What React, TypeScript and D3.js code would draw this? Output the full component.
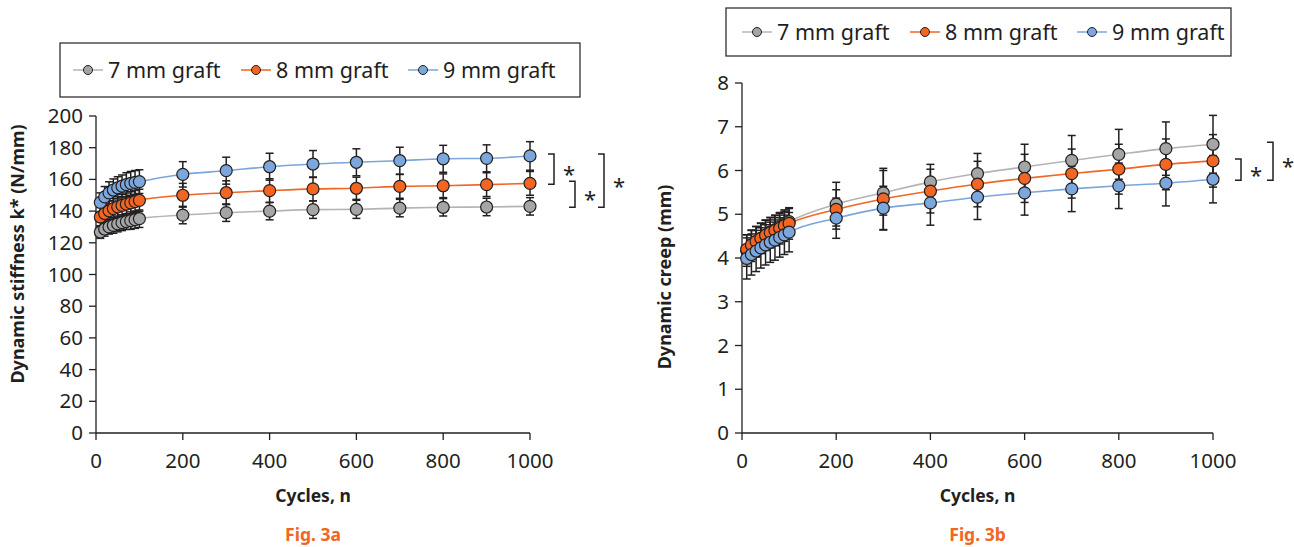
import React from "react";
import * as d3 from "d3";

// cycle counts at which the measurements were taken
const cycles = [10, 20, 30, 40, 50, 60, 70, 80, 90, 100, 200, 300, 400, 500, 600, 700, 800, 900, 1000];

const graftNames = ["7 mm graft", "8 mm graft", "9 mm graft"];

// Fig. 3a - dynamic stiffness k* (N/mm), mean and SD
const stiff7 = [126.8, 128.7, 130.0, 131.0, 131.9, 132.7, 133.4, 134.0, 134.6, 135.2, 137.5, 139.0, 140.0, 140.9, 141.1, 141.9, 142.4, 142.6, 143.0];
const stiff8 = [136.3, 138.5, 140.2, 141.6, 142.7, 143.6, 144.4, 145.2, 146.0, 146.8, 150.0, 151.6, 152.9, 154.0, 154.4, 155.6, 156.0, 156.7, 157.5];
const stiff9 = [145.5, 149.0, 151.5, 153.3, 154.7, 155.8, 156.7, 157.5, 158.1, 158.6, 163.2, 165.5, 168.0, 169.7, 170.8, 171.8, 173.0, 173.3, 174.8];
const stiffSd7 = [4.0, 4.5, 4.5, 5.0, 5.0, 5.0, 5.0, 5.5, 5.5, 5.5, 5.5, 5.5, 5.5, 5.5, 5.7, 5.5, 5.5, 5.5, 5.5];
const stiffSd8 = [6.0, 6.0, 6.5, 6.5, 6.5, 7.0, 7.0, 7.0, 7.0, 7.0, 7.5, 7.5, 7.5, 7.5, 7.0, 7.5, 7.5, 7.5, 7.5];
const stiffSd9 = [6.0, 6.5, 7.0, 7.0, 7.0, 7.0, 7.5, 7.5, 7.5, 7.5, 8.0, 8.5, 8.5, 8.5, 8.5, 8.5, 8.5, 8.5, 9.0];
const stiffTicks = [0, 20, 40, 60, 80, 100, 120, 140, 160, 180, 200];

// Fig. 3b - dynamic creep (mm), mean and SD
const creep7 = [4.17, 4.28, 4.37, 4.45, 4.52, 4.59, 4.65, 4.71, 4.77, 4.83, 5.23, 5.49, 5.74, 5.93, 6.08, 6.23, 6.37, 6.50, 6.60];
const creep8 = [4.20, 4.30, 4.38, 4.45, 4.52, 4.58, 4.63, 4.68, 4.74, 4.79, 5.11, 5.35, 5.53, 5.69, 5.82, 5.93, 6.03, 6.14, 6.22];
const creep9 = [3.99, 4.08, 4.16, 4.23, 4.30, 4.36, 4.41, 4.47, 4.53, 4.59, 4.91, 5.14, 5.26, 5.39, 5.49, 5.58, 5.65, 5.71, 5.80];
const creepSd7 = [0.36, 0.36, 0.35, 0.35, 0.34, 0.33, 0.32, 0.31, 0.30, 0.30, 0.50, 0.51, 0.40, 0.46, 0.52, 0.57, 0.57, 0.61, 0.66];
const creepSd8 = [0.33, 0.33, 0.34, 0.34, 0.35, 0.35, 0.35, 0.36, 0.36, 0.36, 0.45, 0.70, 0.50, 0.52, 0.55, 0.56, 0.57, 0.58, 0.60];
const creepSd9 = [0.47, 0.47, 0.47, 0.46, 0.46, 0.46, 0.46, 0.45, 0.45, 0.45, 0.46, 0.50, 0.51, 0.51, 0.51, 0.52, 0.52, 0.52, 0.54];
const creepTicks = [0, 1, 2, 3, 4, 5, 6, 7, 8];

const xTicks = [0, 200, 400, 600, 800, 1000];

const fills = ["#a4a5a7", "#f26522", "#7ba7dc"];
const lineColors = ["#b4b4b4", "#f26522", "#7aa6dd"];
const ink = "#231f20";
const font = "'Noto Sans', 'Open Sans', sans-serif";

type PanelProps = {
  x0: number;
  x1: number;
  yTop: number;
  yBottom: number;
  yMax: number;
  yTickVals: number[];
  means: number[][];
  sds: number[][];
  yTitle: string;
  yTitleX: number;
  yTitleY: number;
  figLabel: string;
  legend: { x: number; y: number; w: number; h: number; items: number[] };
  brackets: { a: number; b: number; x: number }[];
};

function Panel(p: PanelProps) {
  const x = d3.scaleLinear().domain([0, 1000]).range([p.x0, p.x1]);
  const y = d3.scaleLinear().domain([0, p.yMax]).range([p.yBottom, p.yTop]);
  const line = d3
    .line<number>()
    .x((_, i) => x(cycles[i]))
    .y((d) => y(d))
    .curve(d3.curveMonotoneX);
  const cx = (p.x0 + p.x1) / 2;
  const last = cycles.length - 1;

  return (
    <g>
      {/* legend */}
      <rect x={p.legend.x} y={p.legend.y} width={p.legend.w} height={p.legend.h} fill="white" stroke={ink} strokeWidth={1.2} />
      {graftNames.map((name, i) => {
        const lx = p.legend.items[i];
        const ly = p.legend.y + p.legend.h / 2;
        return (
          <g key={name}>
            <line x1={lx} x2={lx + 30} y1={ly} y2={ly} stroke={lineColors[i]} strokeWidth={1.5} />
            <circle cx={lx + 15} cy={ly} r={4.5} fill={fills[i]} stroke={ink} strokeWidth={1} />
            <text x={lx + 35} y={ly + 7.5} fontSize={21.5} fontFamily={font} fill={ink}>
              {name}
            </text>
          </g>
        );
      })}

      {/* axes */}
      <line x1={p.x0} x2={p.x0} y1={p.yTop} y2={p.yBottom} stroke={ink} strokeWidth={1.3} />
      <line x1={p.x0} x2={p.x1} y1={p.yBottom} y2={p.yBottom} stroke={ink} strokeWidth={1.3} />
      {p.yTickVals.map((t) => (
        <g key={"y" + t}>
          <line x1={p.x0 - 7} x2={p.x0} y1={y(t)} y2={y(t)} stroke={ink} strokeWidth={1.3} />
          <text x={p.x0 - 13} y={y(t) + 7} textAnchor="end" fontSize={20.5} fontFamily={font} fill={ink}>
            {t}
          </text>
        </g>
      ))}
      {xTicks.map((t) => (
        <g key={"x" + t}>
          <line x1={x(t)} x2={x(t)} y1={p.yBottom} y2={p.yBottom + 7} stroke={ink} strokeWidth={1.3} />
          <text x={x(t)} y={p.yBottom + 35} textAnchor="middle" fontSize={20.5} fontFamily={font} fill={ink}>
            {t}
          </text>
        </g>
      ))}
      <text x={cx} y={p.yBottom + 69} textAnchor="middle" fontSize={17.5} fontWeight="bold" fontFamily={font} fill={ink}>
        Cycles, n
      </text>
      <text x={cx} y={p.yBottom + 108} textAnchor="middle" fontSize={17.5} fontWeight="bold" fontFamily={font} fill="#f26522">
        {p.figLabel}
      </text>
      <text
        transform={`translate(${p.yTitleX},${p.yTitleY}) rotate(-90)`}
        textAnchor="middle"
        fontSize={18}
        fontWeight="bold"
        fontFamily={font}
        fill={ink}
      >
        {p.yTitle}
      </text>

      {/* fitted lines */}
      {p.means.map((m, i) => (
        <path key={"l" + i} d={line(m) || ""} fill="none" stroke={lineColors[i]} strokeWidth={1.6} />
      ))}

      {/* error bars */}
      {p.means.map((m, i) =>
        m.map((v, j) => {
          const px = x(cycles[j]);
          const hi = y(v + p.sds[i][j]);
          const lo = y(v - p.sds[i][j]);
          return (
            <g key={`e${i}-${j}`} stroke={ink} strokeWidth={1.5}>
              <line x1={px} x2={px} y1={hi} y2={lo} />
              <line x1={px - 4} x2={px + 4} y1={hi} y2={hi} />
              <line x1={px - 4} x2={px + 4} y1={lo} y2={lo} />
            </g>
          );
        })
      )}

      {/* markers */}
      {p.means.map((m, i) =>
        m.map((v, j) => (
          <circle key={`c${i}-${j}`} cx={x(cycles[j])} cy={y(v)} r={6} fill={fills[i]} stroke={ink} strokeWidth={1.2} />
        ))
      )}

      {/* significance brackets */}
      {p.brackets.map((b, k) => {
        const ya = y(p.means[b.a][last]) - 2;
        const yb = y(p.means[b.b][last]) + 1;
        return (
          <g key={"b" + k}>
            <path d={`M${b.x},${ya}H${b.x + 6}V${yb}H${b.x}`} fill="none" stroke={ink} strokeWidth={1.5} />
            <text x={b.x + 15} y={(ya + yb) / 2 + 13} fontSize={22} fontFamily={font} fill={ink}>
              *
            </text>
          </g>
        );
      })}
    </g>
  );
}

export default function App() {
  return (
    <svg width={1294} height={547} style={{ display: "block", position: "absolute", left: 0, top: 0 }}>
      <rect width={1294} height={547} fill="white" />
      <Panel
        x0={96}
        x1={530}
        yTop={116}
        yBottom={433}
        yMax={200}
        yTickVals={stiffTicks}
        means={[stiff7, stiff8, stiff9]}
        sds={[stiffSd7, stiffSd8, stiffSd9]}
        yTitle="Dynamic stiffness k* (N/mm)"
        yTitleX={24}
        yTitleY={254}
        figLabel="Fig. 3a"
        legend={{ x: 60, y: 43, w: 520, h: 54, items: [73, 241, 408] }}
        brackets={[
          { a: 2, b: 1, x: 548 },
          { a: 1, b: 0, x: 569 },
          { a: 2, b: 0, x: 598 },
        ]}
      />
      <Panel
        x0={742}
        x1={1213}
        yTop={83}
        yBottom={433}
        yMax={8}
        yTickVals={creepTicks}
        means={[creep7, creep8, creep9]}
        sds={[creepSd7, creepSd8, creepSd9]}
        yTitle="Dynamic creep (mm)"
        yTitleX={671}
        yTitleY={277}
        figLabel="Fig. 3b"
        legend={{ x: 726, y: 8, w: 505, h: 48, items: [742, 910, 1077] }}
        brackets={[
          { a: 1, b: 2, x: 1235 },
          { a: 0, b: 2, x: 1267 },
        ]}
      />
    </svg>
  );
}
